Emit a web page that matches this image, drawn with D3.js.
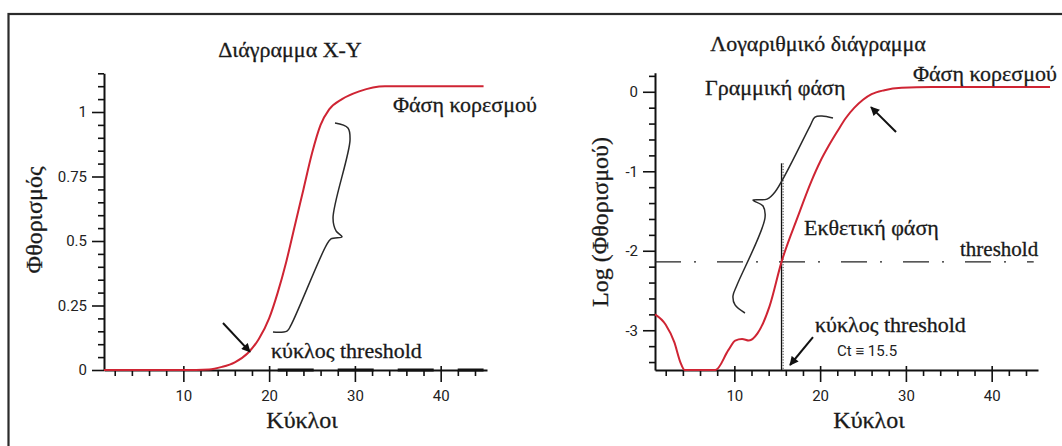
<!DOCTYPE html>
<html>
<head>
<meta charset="utf-8">
<script src="https://cdn.jsdelivr.net/npm/d3@7"></script>
<style>
  html, body { margin: 0; padding: 0; background: #fff; }
  svg { display: block; }
  .serif { font-family: "Liberation Serif", "DejaVu Serif", "Times New Roman", serif; fill: #1a1a1a; stroke: #1a1a1a; stroke-width: 0.3; }
  .tick text { font-family: "Liberation Sans Narrow", Roboto, "Liberation Sans", sans-serif; font-size: 15px; fill: #222; }
</style>
</head>
<body>
<svg id="chart" width="1062" height="446"></svg>
<script>
// ---- data ----------------------------------------------------------
// amplification curve, linear fluorescence
const linCycles = [0.75, 10, 13, 14.5, 16, 17.5, 18.8, 20, 21, 22, 23, 24, 25, 26, 27, 28.5, 30.5, 33.5, 45];
const linValues = [0, 0, 0.002, 0.012, 0.03, 0.065, 0.12, 0.2, 0.3, 0.42, 0.56, 0.7, 0.84, 0.95, 1.01, 1.05, 1.08, 1.1, 1.1];

// same curve, log of fluorescence (clipped at the bottom of the axis)
const logCycles = [0.75, 2, 3, 3.7, 4.2, 5, 6, 7, 7.8, 9.3, 10.1, 10.9, 11.7, 12.7, 14.1, 15.5, 17.4, 19, 20, 21, 22, 23, 24, 25, 26, 27.5, 29.5, 33, 46.8];
const logValues = [-2.8, -2.93, -3.15, -3.4, -3.5, -3.5, -3.5, -3.5, -3.5, -3.25, -3.13, -3.11, -3.13, -3.04, -2.7, -2.14, -1.57, -1.12, -0.88, -0.68, -0.5, -0.33, -0.2, -0.1, -0.03, 0.02, 0.05, 0.06, 0.06];

const xTicks = [10, 20, 30, 40];
const linYTicks = [0, 0.25, 0.5, 0.75, 1];
const logYTicks = [-3, -2, -1, 0];

const thresholdLog = -2.14;  // threshold level on the log plot
const ctValue = 15.5;        // threshold cycle

// ---- layout --------------------------------------------------------
const svg = d3.select("#chart");
const W = 1062, H = 446;

svg.append("rect")
  .attr("x", 8.5).attr("y", 14)
  .attr("width", W + 20).attr("height", H + 20)
  .attr("fill", "none").attr("stroke", "#2b2b2b").attr("stroke-width", 2.2);

svg.append("defs").append("marker")
  .attr("id", "arrowhead")
  .attr("viewBox", "0 0 10 10")
  .attr("refX", 9).attr("refY", 5)
  .attr("markerWidth", 10).attr("markerHeight", 9)
  .attr("markerUnits", "userSpaceOnUse")
  .attr("orient", "auto")
  .append("path").attr("d", "M0,0 L10,5 L0,10 z").attr("fill", "#111");

const xDomain = [0.75, 45.4];
const xL = d3.scaleLinear().domain(xDomain).range([104, 487]);
const yL = d3.scaleLinear().domain([0, 1.15]).range([370, 73.3]);
const xR = d3.scaleLinear().domain(xDomain).range([655, 1038]);
const yR = d3.scaleLinear().domain([-3.5, 0.24]).range([370, 72.7]);

const fmt = d => String(d);

function drawAxes(x, y, majorY, minorY) {
  const g = svg.append("g");
  const y0 = y.range()[0];
  const x0 = x.range()[0];

  // x axis: minor ticks every two cycles, major every ten
  const minorX = d3.range(2, 46, 2).filter(d => d % 10 !== 0);
  g.append("g").attr("transform", `translate(0,${y0})`)
    .call(d3.axisBottom(x).tickValues(minorX).tickSize(6).tickSizeOuter(0).tickFormat(""))
    .call(s => s.select(".domain").remove())
    .call(s => s.selectAll(".tick line").attr("stroke", "#111").attr("stroke-width", 1.6));
  const gx = g.append("g").attr("transform", `translate(0,${y0})`)
    .call(d3.axisBottom(x).tickValues(xTicks).tickSize(12).tickPadding(8).tickSizeOuter(0).tickFormat(fmt));
  gx.select(".domain").attr("stroke", "#111").attr("stroke-width", 2);
  gx.selectAll(".tick line").attr("y1", -4).attr("stroke", "#111").attr("stroke-width", 1.6);

  // y axis
  g.append("g").attr("transform", `translate(${x0},0)`)
    .call(d3.axisLeft(y).tickValues(minorY).tickSize(6).tickSizeOuter(0).tickFormat(""))
    .call(s => s.select(".domain").remove())
    .call(s => s.selectAll(".tick line").attr("stroke", "#111").attr("stroke-width", 1.6));
  const gy = g.append("g").attr("transform", `translate(${x0},0)`)
    .call(d3.axisLeft(y).tickValues(majorY).tickSize(12).tickPadding(5).tickSizeOuter(0).tickFormat(fmt));
  gy.select(".domain").attr("stroke", "#111").attr("stroke-width", 2);
  gy.selectAll(".tick line").attr("stroke", "#111").attr("stroke-width", 1.6);
}

function text(str, x, y, size, opts = {}) {
  const t = svg.append("text").attr("class", "serif")
    .attr("x", x).attr("y", y)
    .attr("font-size", size)
    .attr("text-anchor", opts.anchor || "start")
    .text(str);
  if (opts.rotate) t.attr("transform", `rotate(-90,${x},${y})`);
  return t;
}

function arrow(x, y, from, to) {
  svg.append("line")
    .attr("x1", x(from[0])).attr("y1", y(from[1]))
    .attr("x2", x(to[0])).attr("y2", y(to[1]))
    .attr("stroke", "#111").attr("stroke-width", 2)
    .attr("marker-end", "url(#arrowhead)");
}

function brace(x, y, pts) {
  svg.append("path")
    .attr("d", d3.line().x(d => x(d[0])).y(d => y(d[1])).curve(d3.curveCatmullRom.alpha(0.5))(pts))
    .attr("fill", "none").attr("stroke", "#2a2a2a").attr("stroke-width", 1.5);
}

const redLine = "#cf2433";

// ---- left: linear plot --------------------------------------------
const minorLin = d3.range(1, 24).map(i => +(i * 0.05).toFixed(2)).filter(d => !linYTicks.includes(d));
drawAxes(xL, yL, linYTicks, minorLin);

// threshold dashes lying on the baseline
svg.append("line")
  .attr("x1", xL(21)).attr("x2", xL(45))
  .attr("y1", yL(0)).attr("y2", yL(0))
  .attr("stroke", "#111").attr("stroke-width", 3.2)
  .attr("stroke-dasharray", "36,24");

svg.append("path")
  .datum(d3.zip(linCycles, linValues))
  .attr("d", d3.line().x(d => xL(d[0])).y(d => yL(d[1])).curve(d3.curveMonotoneX))
  .attr("fill", "none").attr("stroke", redLine).attr("stroke-width", 2);

brace(xL, yL, [[20.45, 0.147], [22.08, 0.151], [22.55, 0.174], [26.63, 0.481], [27.21, 0.508], [28.5, 0.516],
               [27.8, 0.539], [27.45, 0.589], [29.43, 0.891], [29.19, 0.938], [27.68, 0.957]]);
arrow(xL, yL, [14.62, 0.182], [17.77, 0.07]);

text("Διάγραμμα X-Y", 290, 57, 22, { anchor: "middle" });
text("Φάση κορεσμού", 393, 112, 22);
text("κύκλος threshold", 271, 358, 22);
text("Κύκλοι", 302, 428, 24, { anchor: "middle" });
text("Φθορισμός", 42, 220, 24, { anchor: "middle", rotate: true });

// ---- right: log plot ----------------------------------------------
const minorLog = d3.range(-17, 2).map(i => +(i * 0.2).toFixed(1)).filter(d => !logYTicks.includes(d) && d <= 0.24);
drawAxes(xR, yR, logYTicks, minorLog);

svg.append("line")
  .attr("x1", xR(xDomain[0])).attr("x2", xR(44.9))
  .attr("y1", yR(thresholdLog)).attr("y2", yR(thresholdLog))
  .attr("stroke", "#222").attr("stroke-width", 1.4)
  .attr("stroke-dasharray", "26,13,2,21");

// Ct marker: solid line with a dotted companion
svg.append("line")
  .attr("x1", xR(ctValue)).attr("x2", xR(ctValue))
  .attr("y1", yR(-0.9)).attr("y2", yR(-3.5))
  .attr("stroke", "#111").attr("stroke-width", 1.3);
svg.append("line")
  .attr("x1", xR(ctValue) + 1.6).attr("x2", xR(ctValue) + 1.6)
  .attr("y1", yR(-0.9)).attr("y2", yR(-3.5))
  .attr("stroke", "#333").attr("stroke-width", 1)
  .attr("stroke-dasharray", "1.2,1.6");

svg.append("path")
  .datum(d3.zip(logCycles, logValues))
  .attr("d", d3.line().x(d => xR(d[0])).y(d => yR(d[1])).curve(d3.curveMonotoneX))
  .attr("fill", "none").attr("stroke", redLine).attr("stroke-width", 2);

brace(xR, yR, [[21.5, -0.33], [20.22, -0.305], [19.4, -0.318], [18.82, -0.431], [14.74, -1.261], [13.81, -1.35],
               [12.17, -1.363], [13.34, -1.437], [13.57, -1.588], [10.31, -2.431], [9.84, -2.569], [10.08, -2.682], [11.24, -2.783]]);
arrow(xR, yR, [28.85, -0.507], [25.93, -0.193]);
arrow(xR, yR, [19.17, -3.085], [16.49, -3.437]);

text("Λογαριθμικό διάγραμμα", 818, 51, 22, { anchor: "middle" });
text("Φάση κορεσμού", 913, 81, 22);
text("Γραμμική φάση", 705, 95, 22);
text("Εκθετική φάση", 804, 235, 22);
text("threshold", 960, 256, 21);
text("κύκλος threshold", 815, 332, 22);
svg.append("text")
  .attr("x", 837).attr("y", 356)
  .attr("font-family", "Roboto, 'Liberation Sans', sans-serif")
  .attr("font-size", 15).attr("fill", "#222")
  .text(`Ct ≡ ${ctValue}`);
text("Κύκλοι", 869, 428, 24, { anchor: "middle" });
text("Log (Φθορισμού)", 608, 222, 24, { anchor: "middle", rotate: true });
</script>
</body>
</html>
